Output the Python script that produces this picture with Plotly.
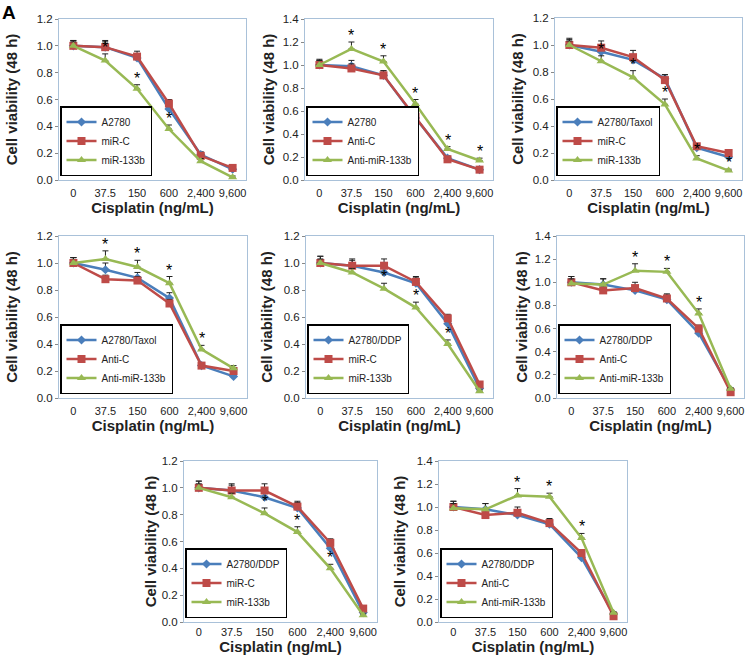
import plotly.graph_objects as go

W, H = 748, 660

doses = ["0", "37.5", "150", "600", "2,400", "9,600"]

# panel 1: A2780 / miR-C / miR-133b
p1_ctrl = [1.00, 0.99, 0.91, 0.53, 0.19, 0.08]
p1_nc = [1.00, 0.99, 0.92, 0.57, 0.18, 0.09]
p1_trt = [1.00, 0.89, 0.68, 0.38, 0.14, 0.02]
p1_ctrl_err = [0.04, 0.04, 0.03, 0.03, 0.02, 0.01]
p1_nc_err = [0.04, 0.05, 0.04, 0.03, 0.02, 0.01]
p1_trt_err = [0.03, 0.05, 0.03, 0.03, 0.02, 0.01]
p1_star = [1, 2, 3]

# panel 2: A2780 / Anti-C / Anti-miR-133b
p2_ctrl = [1.00, 0.99, 0.91, 0.54, 0.19, 0.09]
p2_nc = [1.00, 0.97, 0.91, 0.55, 0.18, 0.09]
p2_trt = [1.00, 1.14, 1.03, 0.66, 0.27, 0.17]
p2_ctrl_err = [0.05, 0.05, 0.04, 0.03, 0.02, 0.01]
p2_nc_err = [0.04, 0.04, 0.04, 0.03, 0.02, 0.01]
p2_trt_err = [0.04, 0.06, 0.05, 0.04, 0.02, 0.02]
p2_star = [1, 2, 3, 4, 5]

# panel 3: A2780/Taxol / miR-C / miR-133b
p3_ctrl = [1.00, 0.95, 0.89, 0.75, 0.24, 0.17]
p3_nc = [1.00, 0.98, 0.91, 0.74, 0.25, 0.20]
p3_trt = [1.00, 0.88, 0.76, 0.56, 0.16, 0.07]
p3_ctrl_err = [0.05, 0.04, 0.04, 0.03, 0.02, 0.02]
p3_nc_err = [0.04, 0.05, 0.05, 0.04, 0.02, 0.02]
p3_trt_err = [0.03, 0.04, 0.05, 0.04, 0.02, 0.01]
p3_star = [1, 2, 3, 4, 5]

# panel 4: A2780/Taxol / Anti-C / Anti-miR-133b
p4_ctrl = [1.00, 0.95, 0.89, 0.74, 0.24, 0.16]
p4_nc = [1.00, 0.88, 0.87, 0.70, 0.24, 0.20]
p4_trt = [1.00, 1.03, 0.97, 0.85, 0.36, 0.22]
p4_ctrl_err = [0.04, 0.05, 0.04, 0.04, 0.02, 0.01]
p4_nc_err = [0.04, 0.03, 0.03, 0.03, 0.02, 0.02]
p4_trt_err = [0.04, 0.06, 0.05, 0.05, 0.03, 0.02]
p4_star = [1, 2, 3, 4]

# panel 5: A2780/DDP / miR-C / miR-133b
p5_ctrl = [1.00, 0.98, 0.93, 0.85, 0.55, 0.07]
p5_nc = [1.00, 0.98, 0.98, 0.86, 0.59, 0.10]
p5_trt = [1.00, 0.93, 0.81, 0.67, 0.40, 0.05]
p5_ctrl_err = [0.05, 0.04, 0.04, 0.04, 0.03, 0.01]
p5_nc_err = [0.05, 0.05, 0.05, 0.04, 0.03, 0.01]
p5_trt_err = [0.03, 0.03, 0.04, 0.04, 0.03, 0.01]
p5_star = [2, 3, 4]

# panel 6: A2780/DDP / Anti-C / Anti-miR-133b
p6_ctrl = [1.00, 0.98, 0.93, 0.85, 0.56, 0.07]
p6_nc = [1.00, 0.93, 0.95, 0.86, 0.60, 0.05]
p6_trt = [0.99, 0.98, 1.10, 1.09, 0.73, 0.08]
p6_ctrl_err = [0.05, 0.05, 0.04, 0.04, 0.03, 0.01]
p6_nc_err = [0.05, 0.04, 0.05, 0.04, 0.03, 0.01]
p6_trt_err = [0.04, 0.05, 0.06, 0.03, 0.04, 0.01]
p6_star = [2, 3, 4]

names_mir = ["miR-C", "miR-133b"]
names_anti = ["Anti-C", "Anti-miR-133b"]

panels = [
    ("A2780", names_mir, p1_ctrl, p1_nc, p1_trt, p1_ctrl_err, p1_nc_err, p1_trt_err, p1_star, 1.2),
    ("A2780", names_anti, p2_ctrl, p2_nc, p2_trt, p2_ctrl_err, p2_nc_err, p2_trt_err, p2_star, 1.4),
    ("A2780/Taxol", names_mir, p3_ctrl, p3_nc, p3_trt, p3_ctrl_err, p3_nc_err, p3_trt_err, p3_star, 1.2),
    ("A2780/Taxol", names_anti, p4_ctrl, p4_nc, p4_trt, p4_ctrl_err, p4_nc_err, p4_trt_err, p4_star, 1.2),
    ("A2780/DDP", names_mir, p5_ctrl, p5_nc, p5_trt, p5_ctrl_err, p5_nc_err, p5_trt_err, p5_star, 1.2),
    ("A2780/DDP", names_anti, p6_ctrl, p6_nc, p6_trt, p6_ctrl_err, p6_nc_err, p6_trt_err, p6_star, 1.4),
    ("A2780/DDP", names_mir, p5_ctrl, p5_nc, p5_trt, p5_ctrl_err, p5_nc_err, p5_trt_err, p5_star, 1.2),
    ("A2780/DDP", names_anti, p6_ctrl, p6_nc, p6_trt, p6_ctrl_err, p6_nc_err, p6_trt_err, p6_star, 1.4),
]

# plot-area boxes in pixels: left, right, top, bottom,
# y-title standoff, x-ticklabel standoff, x-title standoff
boxes = [
    (59, 246, 19, 180, 15, 3, 3), (305, 493, 19, 180, 4, 3, 3), (555, 742, 18, 180, 5, 3, 3),
    (59, 247, 236, 398, 15, 3, 2), (306, 493, 236, 398, 7, 3, 2), (557, 744, 236, 398, 3, 3, 2),
    (184, 377, 461, 622, 1, 0, 0), (439, 627, 461, 622, 7, 0, 0),
]

BLUE, RED, GREEN = "#4A7EBB", "#BE4B48", "#98B954"
FONT = "Liberation Sans, Arial, sans-serif"

fig = go.Figure()
layout = dict(
    width=W, height=H, margin=dict(l=0, r=0, t=0, b=0),
    paper_bgcolor="white", plot_bgcolor="white",
    font=dict(family=FONT, color="#222"),
    annotations=[],
)

for k, (ctrl_name, (nc_name, trt_name), ctrl, nc, trt, ctrl_e, nc_e, trt_e, stars, ymax) in enumerate(panels):
    n = k + 1
    sfx = "" if n == 1 else str(n)
    xa, ya = "x" + sfx, "y" + sfx
    lg = "legend" + sfx
    l, r, t, b, ygap, xlab_gap, xtitle_gap = boxes[k]

    series = [
        (ctrl_name, ctrl, ctrl_e, BLUE, "diamond", 7),
        (nc_name, nc, nc_e, RED, "square", 8),
        (trt_name, trt, trt_e, GREEN, "triangle-up", 8),
    ]
    for name, vals, err, col, sym, ms in series:
        fig.add_trace(go.Scatter(
            x=doses, y=vals, name=name, mode="lines+markers",
            xaxis=xa, yaxis=ya, legend=lg,
            line=dict(color=col, width=2.5),
            marker=dict(symbol=sym, size=ms, color=col),
            error_y=dict(type="data", array=err, arrayminus=[0] * len(err),
                         symmetric=False, color="#222", thickness=1, width=3),
        ))

    layout["xaxis" + sfx] = dict(
        domain=[l / W, r / W], anchor=ya, type="category",
        range=[-0.45, 5.42], showgrid=False,
        showline=True, linecolor="#A9C1D9", linewidth=1, mirror=True,
        ticks="", ticklen=0, tickangle=0, ticklabelstandoff=xlab_gap,
        tickfont=dict(size=11, color="#222"),
        title=dict(text="Cisplatin (ng/mL)", font=dict(size=15, color="#222", weight="bold"),
                   standoff=xtitle_gap),
        automargin=False, fixedrange=True,
    )
    layout["yaxis" + sfx] = dict(
        domain=[1 - b / H, 1 - t / H], anchor=xa,
        range=[0, ymax], dtick=0.2, tickformat=".1f", showgrid=False,
        showline=True, linecolor="#A9C1D9", linewidth=1, mirror=True,
        ticks="outside", ticklen=3, tickcolor="#888",
        tickfont=dict(size=11.5, color="#222"),
        title=dict(text="Cell viability (48 h)", font=dict(size=15, color="#222", weight="bold"),
                   standoff=ygap),
        automargin=False, fixedrange=True, zeroline=False,
    )
    layout[lg] = dict(
        x=(l + 1) / W, y=1 - (b - 4) / H, xanchor="left", yanchor="bottom",
        xref="paper", yref="paper",
        bgcolor="white", bordercolor="black", borderwidth=1.5,
        font=dict(size=10, color="#222"), tracegroupgap=0,
        itemwidth=30, traceorder="normal",
    )

    for i in stars:
        layout["annotations"].append(dict(
            x=i, y=trt[i] + trt_e[i], xref=xa, yref=ya,
            text="*", showarrow=False, yanchor="bottom", yshift=-4,
            font=dict(size=16, color="black", family=FONT),
        ))

layout["annotations"].append(dict(
    x=0, y=1, xref="paper", yref="paper", xanchor="left", yanchor="top",
    text="<b>A</b>", showarrow=False, font=dict(size=19, color="black"),
))

fig.update_layout(**layout)
# the browser's default 8px body margin would shift the figure
fig.write_html("out.html", config={"displayModeBar": False},
               post_script="document.body.style.margin = '0';")
